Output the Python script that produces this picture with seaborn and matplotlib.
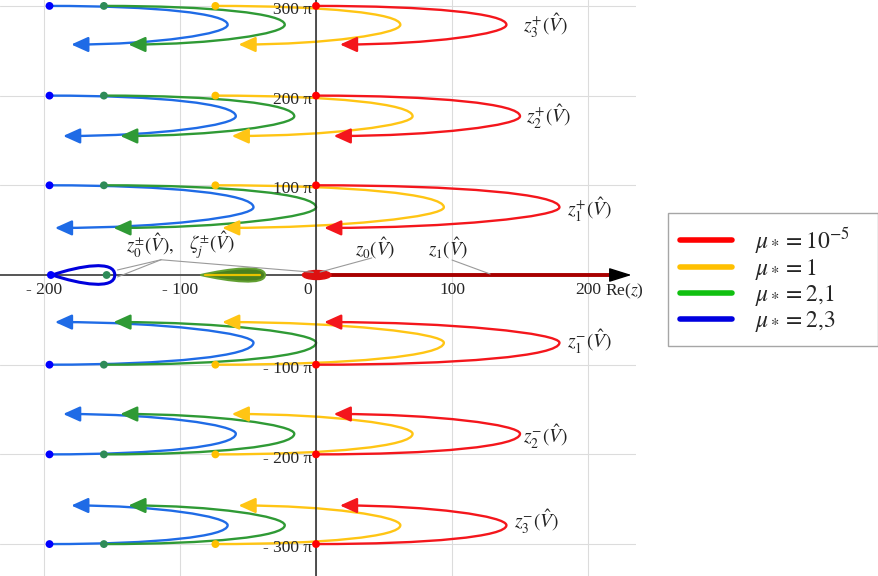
"""Trajectories of the roots z_k(V) in the complex plane for several values of mu_*."""

import matplotlib.pyplot as plt
import pandas as pd
import seaborn as sns
from matplotlib.lines import Line2D
from matplotlib.patches import Ellipse, FancyArrowPatch, PathPatch
from matplotlib.path import Path

# Values: Re(z), and Im(z) in units of pi
mu_labels = [r"$\mu_* = 10^{-5}$", r"$\mu_* = 1$", r"$\mu_* = 2{,}1$", r"$\mu_* = 2{,}3$"]
curve_colors = ["#f4161c", "#ffc514", "#2f9a35", "#1f6be6"]
legend_colors = ["#ff0000", "#ffc000", "#10c010", "#0000e0"]
dot_colors = ["#ff0000", "#ffc000", "#2e8b57", "#0000ff"]

# upper branches z_k^+ (k = 1, 2, 3); the lower ones z_k^- are their conjugates
start_im = [100, 200, 300]
nose_im = [75.5, 177, 279]
end_im = [52.5, 155, 257]

start_re = [0, -74, -156, -196]
nose_re = [[179, 150, 140], [94, 71, 62], [0, -16, -23], [-46, -59, -65]]
end_re = [[6, 13, 17.6], [-69, -62, -57], [-149, -144, -138], [-192, -186, -180]]

upper_names = [r"$z_1^{+}(\hat{V})$", r"$z_2^{+}(\hat{V})$", r"$z_3^{+}(\hat{V})$"]
lower_names = [r"$z_1^{-}(\hat{V})$", r"$z_2^{-}(\hat{V})$", r"$z_3^{-}(\hat{V})$"]
upper_name_re = [201, 171, 168.5]
upper_name_im = [72.5, 176, 277.6]
lower_name_re = [201, 168.5, 162.5]
lower_name_im = [-74.7, -180.6, -275]

# what lies on the real axis
red_blob = (0.5, 21, 10)             # centre, width, height
red_axis_re = [0, 220]
green_leaf_re = [-85, -37.5]
green_leaf_half = 7.5
yellow_seg_re = [-81.5, -41]
blue_loop_re = [-194, -148]
blue_loop_half = 10.5
axis_dot_re = [-154, -195]
axis_dot_colors = ["#2e8b57", "#0000ff"]

axis_names = [r"$z_0^{\pm}(\hat{V}),$", r"$\zeta_j^{\pm}(\hat{V})$",
              r"$z_0(\hat{V})$", r"$z_1(\hat{V})$"]
axis_name_re = [-122, -76.5, 43.4, 97]
axis_name_im = [33, 33, 30, 30]

pointer_from = [(-114, 17), (-114, 17), (-114, 17), (41, 19), (100, 16.7)]
pointer_to = [(-146, 5.6), (-146, -2.2), (-2, 3), (3, 3.3), (128, 1.1)]

x_ticks = [-200, -100, 0, 100, 200]
x_tick_labels = ["- 200", "- 100", "0", "100", "200"]
y_ticks = [-300, -200, -100, 100, 200, 300]
y_tick_labels = ["- 300 π", "- 200 π", "- 100 π", "100 π", "200 π", "300 π"]


def hairpin(xs, ys, xn, yn, xe, ye):
    """Bezier path: start -> nose -> end, horizontal at both ends."""
    verts = [(xs, ys), (xs + 0.6 * (xn - xs), ys), (xn, yn + 0.6 * (ys - yn)),
             (xn, yn), (xn, yn + 0.45 * (ye - yn)), (xe + 0.55 * (xn - xe), ye),
             (xe, ye)]
    return Path(verts, [Path.MOVETO] + [Path.CURVE4] * 6)


def teardrop(x0, x1, h):
    """Closed loop pointed at x0, rounded at x1, on the real axis."""
    length = x1 - x0
    verts = [(x0, 0), (x0 + 0.45 * length, h), (x1, 1.6 * h), (x1, 0),
             (x1, -1.6 * h), (x0 + 0.45 * length, -h), (x0, 0), (x0, 0)]
    codes = [Path.MOVETO] + [Path.CURVE4] * 6 + [Path.CLOSEPOLY]
    return Path(verts, codes)


def main():
    sns.set_theme(style="whitegrid")
    plt.rcParams["font.family"] = ["Liberation Serif", "DejaVu Serif"]
    plt.rcParams["mathtext.fontset"] = "stix"

    fig = plt.figure(figsize=(8.79, 5.76), dpi=100)
    ax = fig.add_axes([0, 0, 636 / 879, 1])
    ax.set_xlim(-232.4, 235.3)
    ax.set_ylim(-335.6, 306.6)
    ax.set_xticks(x_ticks)
    ax.set_yticks(y_ticks)
    ax.tick_params(length=0, labelleft=False, labelbottom=False)
    ax.grid(True, color="#dcdcdc", linewidth=0.8)
    for side in ax.spines.values():
        side.set_visible(False)

    # axes through the origin
    ax.axvline(0, color="#222222", lw=1.1, zorder=2.5)
    ax.plot([ax.get_xlim()[0], 0], [0, 0], color="#555555", lw=1.4, zorder=2.5)
    ax.plot(red_axis_re, [0, 0], color="#a80000", lw=2.8, zorder=2.6)
    ax.annotate("", xy=(232, 0), xytext=(216, 0),
                arrowprops=dict(arrowstyle="-|>,head_length=0.7,head_width=0.22",
                                color="black", shrinkA=0, shrinkB=0,
                                mutation_scale=20), zorder=3)

    # hairpin trajectories, drawn so red ends on top
    for i in [2, 3, 1, 0]:
        for k in range(3):
            for sign in (1, -1):
                path = hairpin(start_re[i], sign * start_im[k],
                               nose_re[i][k], sign * nose_im[k],
                               end_re[i][k], sign * end_im[k])
                arrow = FancyArrowPatch(
                    path=path, arrowstyle="-|>,head_length=0.6,head_width=0.27",
                    mutation_scale=17, color=curve_colors[i], lw=1.7,
                    transform=ax.transData, zorder=2 + 0.1 * (3 - i))
                ax.add_patch(arrow)

    # start points of every branch
    dots = pd.DataFrame({
        "re": [start_re[i] for i in range(4) for k in range(3) for s in (1, -1)],
        "im": [s * start_im[k] for i in range(4) for k in range(3) for s in (1, -1)],
        "mu": [mu_labels[i] for i in range(4) for k in range(3) for s in (1, -1)],
    })
    sns.scatterplot(data=dots, x="re", y="im", hue="mu",
                    palette=dict(zip(mu_labels, dot_colors)), s=32,
                    linewidth=0, legend=False, zorder=5, ax=ax)

    # features on the real axis
    ax.add_patch(PathPatch(teardrop(*green_leaf_re, green_leaf_half),
                           facecolor="#4a801e", edgecolor="#62a032", lw=1.4, zorder=4))
    ax.plot(yellow_seg_re, [0, 0], color="#e8c200", lw=1.6, zorder=4.1)
    ax.add_patch(PathPatch(teardrop(*blue_loop_re, blue_loop_half),
                           facecolor="none", edgecolor="#0000dd", lw=2.2, zorder=4))
    ax.add_patch(Ellipse((red_blob[0], 0), red_blob[1], red_blob[2],
                         color="#dd1010", zorder=4.2))
    ax.scatter(axis_dot_re, [0, 0], c=axis_dot_colors, s=32, lw=0, zorder=5)

    # thin pointer lines to the annotations
    for (x0, y0), (x1, y1) in zip(pointer_from, pointer_to):
        ax.plot([x0, x1], [y0, y1], color="#9a9a9a", lw=0.8, zorder=4.5)
    for name, x, y in zip(axis_names, axis_name_re, axis_name_im):
        ax.text(x, y, name, fontsize=13.5, ha="center", va="center", color="#222222")

    for name, x, y in zip(upper_names + lower_names, upper_name_re + lower_name_re,
                          upper_name_im + lower_name_im):
        ax.text(x, y, name, fontsize=14, ha="center", va="center", color="#222222")

    # tick labels sit on the axes through the origin
    for x, lbl in zip(x_ticks, x_tick_labels):
        if x == 0:
            ax.annotate(lbl, (0, 0), xytext=(-3, -5), textcoords="offset points",
                        ha="right", va="top", fontsize=12.5)
        else:
            ax.annotate(lbl, (x, 0), xytext=(0, -5), textcoords="offset points",
                        ha="center", va="top", fontsize=12.5)
    ax.annotate("Re($z$)", (200, 0), xytext=(12, -5), textcoords="offset points",
                ha="left", va="top", fontsize=12.5, annotation_clip=False)
    for y, lbl in zip(y_ticks, y_tick_labels):
        ax.annotate(lbl, (0, y), xytext=(-3, -3), textcoords="offset points",
                    ha="right", va="center", fontsize=12.5, zorder=6)

    handles = [Line2D([], [], color=c, lw=4) for c in legend_colors]
    fig.legend(handles, mu_labels, loc="upper left", mode="expand",
               bbox_to_anchor=(668 / 879, 1 - 345 / 576, 210 / 879, 132 / 576),
               frameon=True, fancybox=False, edgecolor="#a6a6a6", framealpha=1,
               fontsize=17, handlelength=2.2, handletextpad=1.0, labelspacing=0.05,
               borderpad=0.5, borderaxespad=0)

    fig.savefig("out.png", dpi=100, facecolor="white")
    plt.close(fig)


if __name__ == "__main__":
    main()
